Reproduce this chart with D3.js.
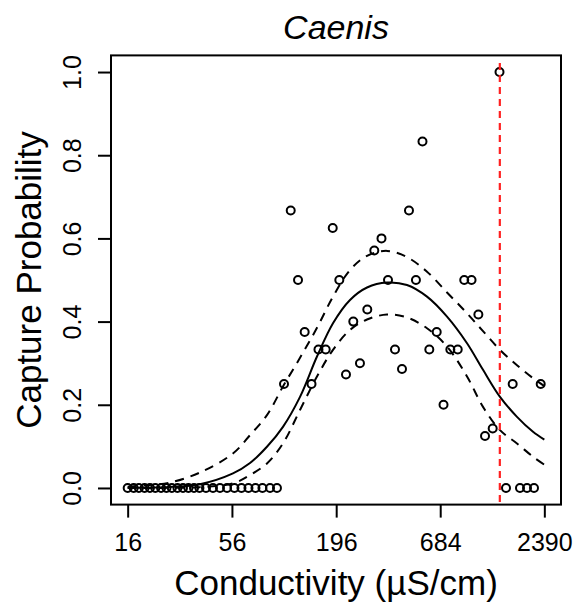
<!DOCTYPE html>
<html>
<head>
<meta charset="utf-8">
<script src="https://cdn.jsdelivr.net/npm/d3@7"></script>
<style>
  html, body { margin: 0; padding: 0; background: #fff; }
  svg { display: block; }
  text { font-family: "Liberation Sans", Arial, Helvetica, sans-serif; fill: #000; }
</style>
</head>
<body>
<svg id="chart" width="573" height="605"></svg>
<script>
// ---- Data (conductivity in µS/cm, capture probability) ----
const title = "Caenis";
const xLabel = "Conductivity (µS/cm)";
const yLabel = "Capture Probability";

const obsConductivity = [
  16, 17.2, 18.3, 19.6, 20.9, 22.3, 23.9, 25.5, 27.2, 29.1, 31.1, 33.2, 35.5, 37.9,
  41.0, 44.6, 48.5, 52.8, 57.7, 62.8, 68.3, 74.3, 80.8, 88.5, 96.2,
  104.7, 113.5, 123.9, 134.2, 145.7, 158.4, 172.8, 188, 203.5, 220.5, 240.7, 260.8,
  284.8, 309.8, 337.8, 365.3, 397.3, 432.2, 470, 511, 552.8, 600, 655.8, 711.8,
  772.5, 844.3, 913, 996.7, 1081.8, 1171.9, 1285, 1394.7, 1508, 1634, 1784, 1941, 2111, 2288
];
const obsProbability = [
  0, 0, 0, 0, 0, 0, 0, 0, 0, 0, 0, 0, 0, 0,
  0, 0, 0, 0, 0, 0, 0, 0, 0, 0, 0,
  0.25, 0.667, 0.5, 0.375, 0.25, 0.333, 0.333, 0.625, 0.5, 0.273, 0.4, 0.3,
  0.429, 0.571, 0.6, 0.5, 0.333, 0.286, 0.667, 0.5, 0.833, 0.333, 0.375, 0.2,
  0.333, 0.333, 0.5, 0.5, 0.417, 0.125, 0.143, 1.0, 0, 0.25, 0, 0, 0, 0.25
];

const fitConductivity = [16, 20.9, 26.6, 38.1, 56.7, 69.6, 85.3, 103.4, 126.9, 155.6, 188.6,
  231.4, 283.9, 360.9, 458.9, 583.6, 742.4, 944, 1144, 1403, 1721, 2086, 2390];
const fitProbability = [0.0003, 0.0008, 0.0025, 0.009, 0.035, 0.06, 0.099, 0.147, 0.219, 0.316, 0.396,
  0.452, 0.482, 0.494, 0.488, 0.46, 0.412, 0.348, 0.284, 0.219, 0.171, 0.135, 0.116];
const upperProbability = [0.003, 0.007, 0.013, 0.037, 0.083, 0.127, 0.175, 0.244, 0.313, 0.385, 0.46,
  0.524, 0.558, 0.57, 0.555, 0.52, 0.47, 0.42, 0.377, 0.332, 0.295, 0.264, 0.245];
const lowerProbability = [0.00002, 0.0001, 0.0004, 0.002, 0.011, 0.031, 0.059, 0.107, 0.1875, 0.268, 0.332,
  0.38, 0.405, 0.417, 0.41, 0.384, 0.34, 0.268, 0.195, 0.139, 0.107, 0.075, 0.056];

const thresholdConductivity = 1400;

const xTickValues = [16, 56, 196, 684, 2390];
const yTickValues = [0, 0.2, 0.4, 0.6, 0.8, 1.0];

(function () {
// ---- Layout ----
const svg = d3.select("#chart");
const mLeft = 111, mRight = 561, mTop = 55.4, mBottom = 504.6;

const lnMin = Math.log(d3.min(xTickValues)), lnMax = Math.log(d3.max(xTickValues));
const pad = 0.04 * (lnMax - lnMin);
const x = d3.scaleLog()
  .domain([Math.exp(lnMin - pad), Math.exp(lnMax + pad)])
  .range([mLeft, mRight]);
const y = d3.scaleLinear().domain([-0.04, 1.04]).range([mBottom, mTop]);

svg.append("defs").append("clipPath").attr("id", "clip")
  .append("rect").attr("x", mLeft).attr("y", mTop)
  .attr("width", mRight - mLeft).attr("height", mBottom - mTop);

const plot = svg.append("g").attr("clip-path", "url(#clip)");

// points
const pts = obsConductivity.map((c, i) => ({c, p: obsProbability[i]}));
plot.selectAll("circle.obs").data(pts).enter().append("circle")
  .attr("class", "obs")
  .attr("cx", d => x(d.c)).attr("cy", d => y(d.p))
  .attr("r", 4)
  .attr("fill", "none").attr("stroke", "#000").attr("stroke-width", 2);

// curves
const line = d3.line().x(d => x(d[0])).y(d => y(d[1])).curve(d3.curveCatmullRom.alpha(0.5));
const fitPts = fitConductivity.map((c, i) => [c, fitProbability[i]]);
const upPts = fitConductivity.map((c, i) => [c, upperProbability[i]]);
const loPts = fitConductivity.map((c, i) => [c, lowerProbability[i]]);

plot.append("path").attr("d", line(fitPts))
  .attr("fill", "none").attr("stroke", "#000").attr("stroke-width", 2);
[upPts, loPts].forEach(p => {
  plot.append("path").attr("d", line(p))
    .attr("fill", "none").attr("stroke", "#000").attr("stroke-width", 2)
    .attr("stroke-dasharray", "9,7");
});

// threshold line
plot.append("line")
  .attr("x1", x(thresholdConductivity)).attr("x2", x(thresholdConductivity))
  .attr("y1", y(1.022)).attr("y2", mBottom)
  .attr("stroke", "#ff2020").attr("stroke-width", 2.2)
  .attr("stroke-dasharray", "7,5");

// box
svg.append("rect").attr("x", mLeft).attr("y", mTop)
  .attr("width", mRight - mLeft).attr("height", mBottom - mTop)
  .attr("fill", "none").attr("stroke", "#000").attr("stroke-width", 2);

// x axis
const xAxis = d3.axisBottom(x).tickValues(xTickValues).tickFormat(d3.format("d"))
  .tickSize(13).tickPadding(16);
const gx = svg.append("g").attr("transform", `translate(0,${mBottom})`).call(xAxis);
gx.attr("font-family", null).attr("font-size", null);
gx.select(".domain").remove();
gx.selectAll(".tick line").attr("stroke-width", 2);
gx.selectAll(".tick text").style("font-size", "25px");

// y axis
const yAxis = d3.axisLeft(y).tickValues(yTickValues).tickFormat(d3.format(".1f"))
  .tickSize(13).tickPadding(0);
const gy = svg.append("g").attr("transform", `translate(${mLeft},0)`).call(yAxis);
gy.attr("font-family", null).attr("font-size", null);
gy.select(".domain").remove();
gy.selectAll(".tick line").attr("stroke-width", 2);
gy.selectAll(".tick text")
  .attr("x", null).attr("dy", "0.35em")
  .attr("text-anchor", "middle")
  .attr("transform", "translate(-39,0) rotate(-90)")
  .style("font-size", "25px");

// title
svg.append("text").attr("x", (mLeft + mRight) / 2).attr("y", 39)
  .attr("text-anchor", "middle").style("font-size", "34px").style("font-style", "italic")
  .text(title);

// x label
svg.append("text").attr("x", (mLeft + mRight) / 2).attr("y", 595)
  .attr("text-anchor", "middle").style("font-size", "35px")
  .text(xLabel);

// y label
svg.append("text").attr("transform", `translate(41,${(mTop + mBottom) / 2}) rotate(-90)`)
  .attr("text-anchor", "middle").style("font-size", "35px")
  .text(yLabel);
})();
</script>
</body>
</html>
